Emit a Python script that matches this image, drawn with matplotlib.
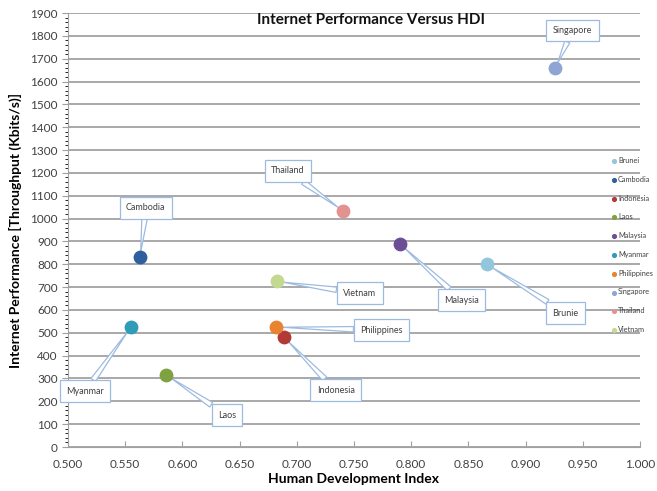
import matplotlib.pyplot as plt
from matplotlib.ticker import MultipleLocator, FormatStrFormatter

plt.rcParams['font.family'] = ['Lato', 'DejaVu Sans']

# data
countries = ["Brunei", "Cambodia", "Indonesia", "Laos", "Malaysia",
             "Myanmar", "Philippines", "Singapore", "Thailand", "Vietnam"]
hdi = [0.866, 0.563, 0.689, 0.586, 0.790, 0.555, 0.682, 0.926, 0.740, 0.683]
throughput = [800, 830, 480, 315, 890, 525, 525, 1660, 1035, 725]
callout_text = ["Brunie", "Cambodia", "Indonesia", "Laos", "Malaysia",
                "Myanmar", "Philippines", "Singapore", "Thailand", "Vietnam"]

colors = ["#93c6dc", "#2f5f9e", "#b23a36", "#7ea23f", "#6b4e96",
          "#2e9db8", "#e8832f", "#8fa6d4", "#e39292", "#c2d98f"]
# where the callout boxes sit (data coords)
label_pos = [(0.935, 586), (0.568, 1047), (0.734, 249), (0.639, 139), (0.844, 643),
             (0.515, 244), (0.774, 512), (0.941, 1823), (0.692, 1209), (0.755, 674)]

fig = plt.figure(figsize=(6.57, 4.91), dpi=100)
ax = fig.add_axes([68/657, 1-447/491, 572/657, 434/491])

for i in range(len(countries)):
    ax.scatter(hdi[i], throughput[i], s=80, color=colors[i], label=countries[i], zorder=5)
    ax.annotate(callout_text[i], xy=(hdi[i], throughput[i]), xytext=label_pos[i],
                fontsize=6.5, color="#404040", ha="center", va="center",
                bbox=dict(boxstyle="square,pad=0.7", fc="white", ec="#9dbbe0", lw=0.9),
                arrowprops=dict(arrowstyle="wedge,tail_width=0.6,shrink_factor=0.5",
                                fc="white", ec="#9dbbe0", lw=0.9, shrinkA=0, shrinkB=4),
                zorder=4)

ax.set_xlim(0.5, 1.0)
ax.set_ylim(0, 1900)
ax.xaxis.set_major_locator(MultipleLocator(0.05))
ax.xaxis.set_major_formatter(FormatStrFormatter("%.3f"))
ax.yaxis.set_major_locator(MultipleLocator(100))
ax.yaxis.set_minor_locator(MultipleLocator(20))
ax.grid(axis="y", color="#a8a8a8", lw=1.4)
ax.set_axisbelow(True)
for s in ["top", "right"]:
    ax.spines[s].set_visible(False)
for s in ["left", "bottom"]:
    ax.spines[s].set_color("#a0a0a0")
ax.tick_params(axis="both", labelsize=8.5, colors="#a0a0a0", labelcolor="#404040")
ax.tick_params(axis="x", direction="in", length=4, pad=9)
ax.tick_params(axis="y", which="major", length=4)
ax.tick_params(axis="y", which="minor", length=2)

ax.text(0.53, 0.984, "Internet Performance Versus HDI", transform=ax.transAxes,
        fontsize=11, fontweight="bold", ha="center", va="center", color="#111111")
ax.set_xlabel("Human Development Index", fontsize=10, fontweight="bold", labelpad=2)
ax.set_ylabel("Internet Performance [Throughput (Kbits/s)]", fontsize=10,
              fontweight="bold", labelpad=6)

leg = ax.legend(loc="upper left", bbox_to_anchor=(0.945, 0.675), frameon=False,
                fontsize=5.3, markerscale=0.3, handletextpad=0.1, labelspacing=1.6,
                borderaxespad=0, handlelength=0.8)
for t in leg.get_texts():
    t.set_color("#404040")

fig.savefig("out.png", dpi=100)
